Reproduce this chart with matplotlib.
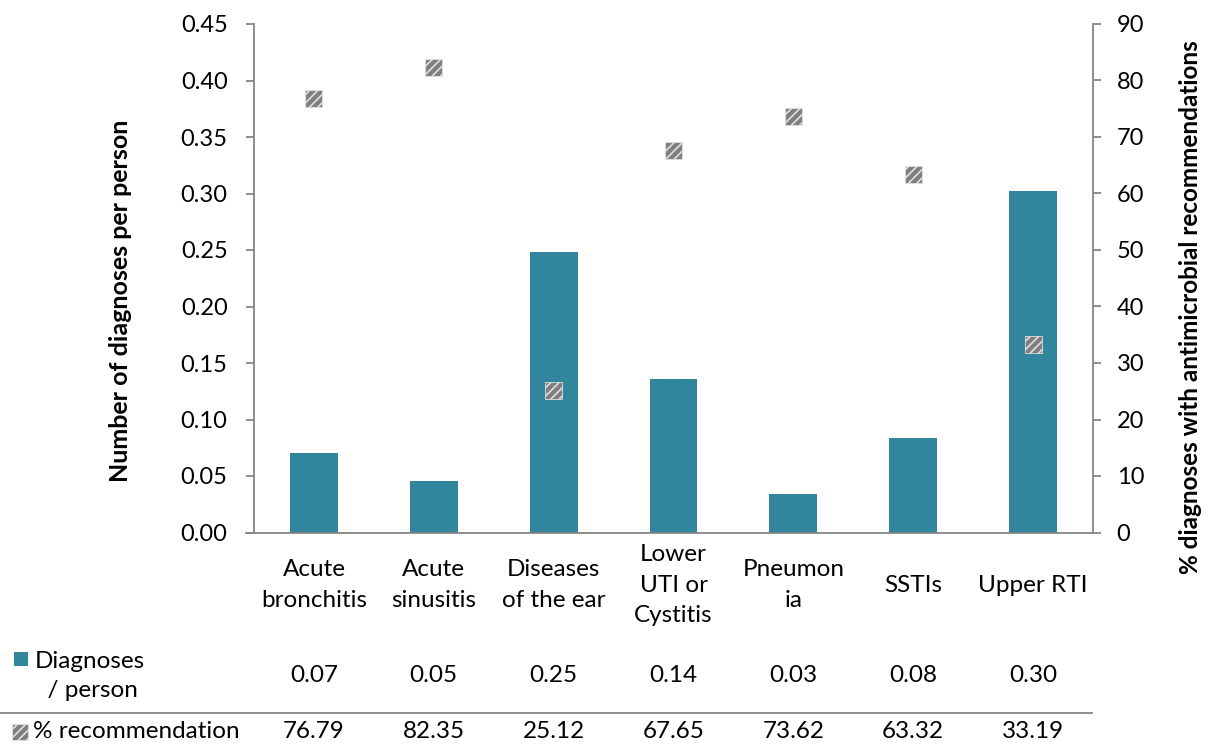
import matplotlib
matplotlib.use("Agg")
import matplotlib.pyplot as plt
from matplotlib.patches import Rectangle
from matplotlib.lines import Line2D
import matplotlib.transforms as mtransforms
import numpy as np

categories = ["Acute\nbronchitis", "Acute\nsinusitis", "Diseases\nof the ear",
              "Lower\nUTI or\nCystitis", "Pneumon\nia", "SSTIs", "Upper RTI"]
diagnoses_per_person = [0.0705, 0.0452, 0.2484, 0.1356, 0.0344, 0.0840, 0.3020]
pct_recommendation = [76.79, 82.35, 25.12, 67.65, 73.62, 63.32, 33.19]
left_ticks = [0.00, 0.05, 0.10, 0.15, 0.20, 0.25, 0.30, 0.35, 0.40, 0.45]
right_ticks = [0, 10, 20, 30, 40, 50, 60, 70, 80, 90]
row1_label = "Diagnoses\n  / person"
row2_label = "% recommendation"
left_label = "Number of diagnoses per person"
right_label = "% diagnoses with antimicrobial recommendations"

plt.rcParams['font.family'] = ['Lato', 'DejaVu Sans']
plt.rcParams['hatch.linewidth'] = 1.2

BAR = '#31859C'
GRAY = '#868686'
MARK = '#7F7F7F'
FS = 17.5
TFS = 17

fig = plt.figure(figsize=(12.09, 7.46), dpi=100)
W, H = 1209, 746
ax = fig.add_axes([254 / W, 1 - 532.5 / H, (1093 - 254) / W, (532.5 - 24) / H])
ax2 = ax.twinx()

x = np.arange(len(categories))
ax.bar(x, diagnoses_per_person, width=0.4, color=BAR, zorder=2)
ax.set_xlim(-0.5, len(categories) - 0.5)
ax.set_ylim(0, 0.45)
ax.set_yticks(left_ticks)
ax.set_yticklabels([f"{v:.2f}" for v in left_ticks], fontsize=TFS)
ax.set_xticks([])

ax2.scatter(x, pct_recommendation, marker='s', s=150, facecolor=MARK,
            edgecolor='#E0E0E0', linewidth=0.6, hatch='////', zorder=3)
ax2.set_ylim(0, 90)
ax2.set_yticks(right_ticks)
ax2.set_yticklabels([str(v) for v in right_ticks], fontsize=TFS)

for a in (ax, ax2):
    a.spines['top'].set_visible(False)
    for s in ('left', 'right', 'bottom'):
        a.spines[s].set_color(GRAY)
        a.spines[s].set_linewidth(1.3)
    a.tick_params(axis='y', direction='out', length=6, width=1.3, color=GRAY)
ax.tick_params(axis='y', pad=13)
ax2.tick_params(axis='y', pad=11)
ax.spines['right'].set_visible(False)
ax2.spines['left'].set_visible(False)
ax2.spines['bottom'].set_visible(False)

# extend bottom axis slightly to the left (like a tick)
ax.add_line(Line2D([246 / W, 254 / W], [1 - 532.5 / H] * 2, transform=fig.transFigure,
                   color=GRAY, lw=1.3, clip_on=False))

# axis titles
fig.text(121 / W, 1 - 301 / H, left_label, rotation=90, ha='center', va='center',
         fontsize=FS + 0.5, fontweight='bold')
fig.text(1190 / W, 1 - 307 / H, right_label, rotation=90, ha='center', va='center',
         fontsize=FS, fontweight='bold')

# category labels
trans = mtransforms.blended_transform_factory(ax.transData, fig.transFigure)
for xi, c in zip(x, categories):
    ax.text(xi, 1 - 585 / H, c, transform=trans, ha='center', va='center',
            fontsize=FS, linespacing=1.55)

# data table
for xi, v in zip(x, diagnoses_per_person):
    ax.text(xi, 1 - 676 / H, f"{v:.2f}", transform=trans, ha='center', va='center', fontsize=FS)
for xi, v in zip(x, pct_recommendation):
    ax.text(xi, 1 - 732 / H, f"{v:.2f}", transform=trans, ha='center', va='center', fontsize=FS)

fig.add_artist(Line2D([0, 1092 / W], [1 - 712.5 / H] * 2, transform=fig.transFigure,
                      color=GRAY, lw=1.3))

fig.text(35 / W, 1 - 676 / H, row1_label, ha='left', va='center', fontsize=FS, linespacing=1.45)
fig.add_artist(Rectangle((14 / W, 1 - 666 / H), 14 / W, 14 / H, transform=fig.transFigure,
                         facecolor=BAR, edgecolor='none'))
fig.text(33 / W, 1 - 732 / H, row2_label, ha='left', va='center', fontsize=FS)
fig.add_artist(Rectangle((12 / W, 1 - 740 / H), 16 / W, 16 / H, transform=fig.transFigure,
                         facecolor=MARK, edgecolor='#E0E0E0', linewidth=0.6, hatch='////'))

fig.savefig('out.png', dpi=100)
